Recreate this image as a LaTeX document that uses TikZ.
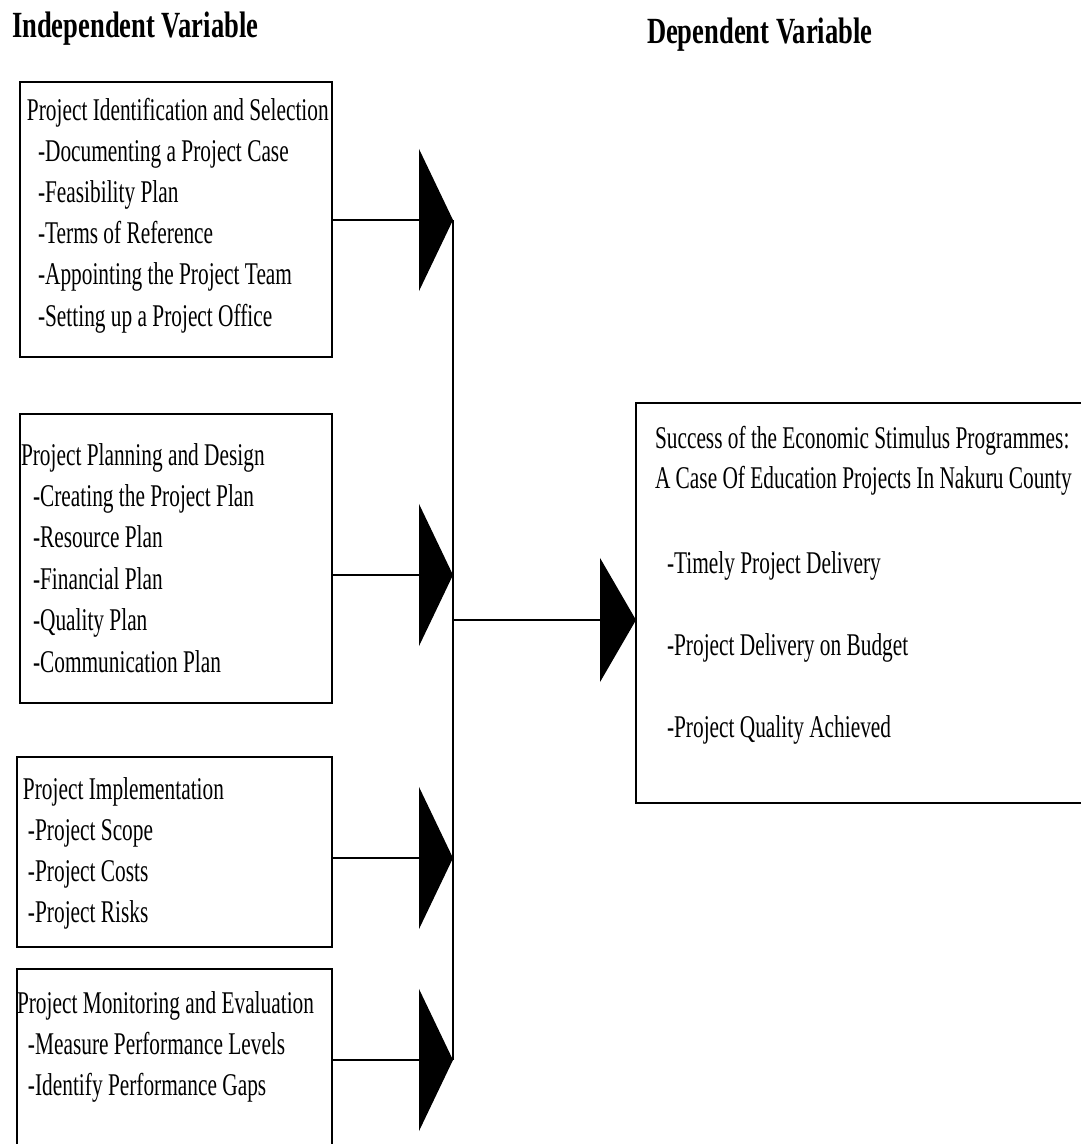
\documentclass[tikz,border=0pt]{standalone}
\usepackage{fontspec}
\setmainfont[FakeStretch=0.675]{Liberation Serif}
\newfontfamily\headfont[FakeStretch=0.72]{Liberation Serif}
\usetikzlibrary{arrows.meta, positioning, fit}
\newcommand{\bodysize}{\fontsize{18pt}{23pt}\selectfont}
\newcommand{\headsize}{\headfont\bfseries\fontsize{21pt}{25pt}\selectfont}

\begin{document}
\begin{tikzpicture}[
  x=0.02cm, y=-0.02cm,
  every node/.style={inner sep=0pt, outer sep=0pt},
  box/.style={draw, line width=0.8pt, fit={#1}},
  txt/.style={anchor=base west, font=\bodysize},
  head/.style={anchor=base west, font=\headsize},
  link/.style={line width=0.7pt},
  tipsmall/.style={-{Triangle[length=0.68cm, width=2.84cm]}},
  tipbig/.style={-{Triangle[length=0.72cm, width=2.48cm]}},
]
\useasboundingbox (0,0) rectangle (1081,1144);
\clip (0,0) rectangle (1081,1144);

% Headings
\node[head] (indep) at (12,37) {Independent Variable};
\node[head] (dep) at (647,43) {Dependent Variable};

% Boxes
\node[box={(20,82) (332,357)}] (ident) {};
\node[box={(20,414) (332,703)}] (plan) {};
\node[box={(17,757) (332,947)}] (impl) {};
\node[box={(17,969) (332,1170)}] (mon) {};
\node[box={(636,403) (1100,803)}] (succ) {};

% Box texts
\node[txt] (ident-0) at (27,120) {Project Identification and Selection};
\foreach \t [count=\i] in {-Documenting a Project Case, -Feasibility Plan, -Terms of Reference,
    -Appointing the Project Team, -Setting up a Project Office}
  \node[txt] (ident-\i) at (38,120+41.2*\i) {\t};

\node[txt] (plan-0) at (21,465) {Project Planning and Design};
\foreach \t [count=\i] in {-Creating the Project Plan, -Resource Plan, -Financial Plan,
    -Quality Plan, -Communication Plan}
  \node[txt] (plan-\i) at (33,465+41.4*\i) {\t};

\node[txt] (impl-0) at (23,799) {Project Implementation};
\foreach \t [count=\i] in {-Project Scope, -Project Costs, -Project Risks}
  \node[txt] (impl-\i) at (28,799+41.3*\i) {\t};

\node[txt] (mon-0) at (17,1013) {Project Monitoring and Evaluation};
\foreach \t [count=\i] in {-Measure Performance Levels, -Identify Performance Gaps}
  \node[txt] (mon-\i) at (28,1013+41*\i) {\t};

\node[txt] (succ-0) at (655,448) {Success of the Economic Stimulus Programmes:};
\node[txt] (succ-1) at (655,488) {A Case Of Education Projects In Nakuru County};
\node[txt] (succ-2) at (667,573) {-Timely Project Delivery};
\node[txt] (succ-3) at (667,655) {-Project Delivery on Budget};
\node[txt] (succ-4) at (667,737) {-Project Quality Achieved};

% Arrow tips and junction
\coordinate (t1) at (453,220);
\coordinate (t2) at (453,575);
\coordinate (t3) at (453,858);
\coordinate (t4) at (453,1060);
\coordinate (jn) at (453,620);

% Connectors
\draw[link, tipsmall] (ident.east |- t1) -- (t1);
\draw[link, tipsmall] (plan.east |- t2) -- (t2);
\draw[link, tipsmall] (impl.east |- t3) -- (t3);
\draw[link, tipsmall] (mon.east |- t4) -- (t4);
\draw[link] (t1) -- (t4);
\draw[link, tipbig] (jn) -- (succ.west |- jn);

\end{tikzpicture}
\end{document}
